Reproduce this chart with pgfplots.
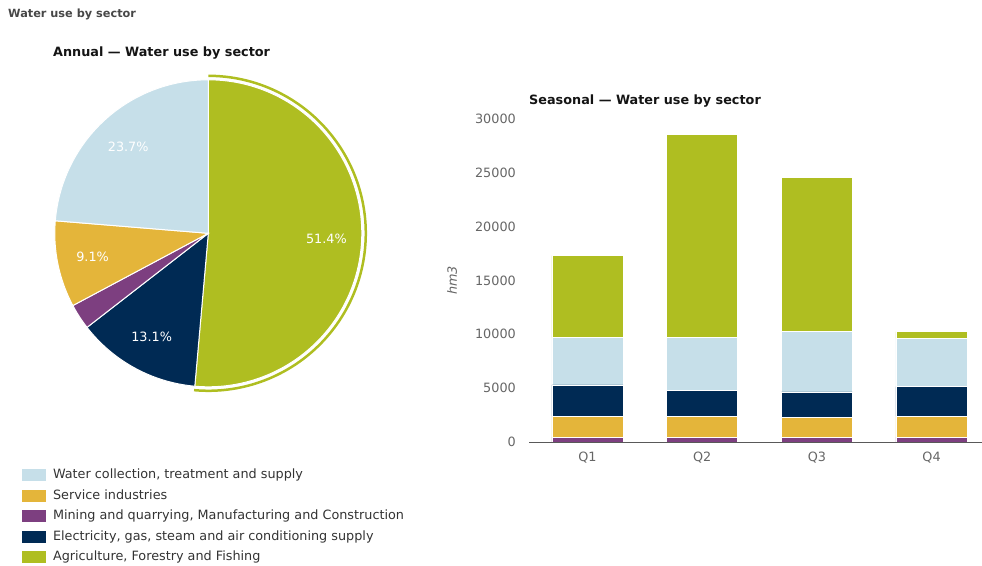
\documentclass[border=0pt]{standalone}
\usepackage{fontspec}
\setmainfont{DejaVu Sans}
\usepackage{pgfplots}
\usepackage{pgfplotstable}
\pgfplotsset{compat=1.18}
\definecolor{agri}{RGB}{175,190,33}
\definecolor{water}{RGB}{198,223,233}
\definecolor{serv}{RGB}{228,181,58}
\definecolor{mine}{RGB}{125,63,128}
\definecolor{elec}{RGB}{0,42,84}
\definecolor{tickgray}{RGB}{102,102,102}
\definecolor{txt}{RGB}{51,51,51}

\pgfplotstableread{
q mine serv elec water agri
0 450 1950 2900 4400 7600
1 450 1950 2350 4950 18850
2 450 1850 2350 5600 14350
3 450 1950 2750 4480 620
}\seasonal

\newcommand{\fs}{\fontsize{12.8}{15}\selectfont}

\begin{document}
\begin{tikzpicture}[x=1pt,y=1pt]
\useasboundingbox (0,0) rectangle (982,565);

\node[anchor=west, inner sep=0pt, font=\fontsize{11.3}{13}\selectfont\bfseries, text=black!72] at (8,551) {Water use by sector};
\node[anchor=west, inner sep=0pt, font=\fontsize{12.8}{15}\selectfont\bfseries, text=black!92] at (53,512) {Annual — Water use by sector};
\node[anchor=west, inner sep=0pt, font=\fontsize{12.8}{15}\selectfont\bfseries, text=black!92] at (529,464) {Seasonal — Water use by sector};

% ---------- pie ----------
\begin{axis}[at={(8.75pt,132.15pt)}, anchor=south west, scale only axis,
  width=399.1pt, height=399.1pt,
  xmin=-1.3, xmax=1.3, ymin=-1.3, ymax=1.3,
  hide axis, clip=false, reverse legend,
  legend image code/.code={\fill[#1,draw=none] (0pt,-6pt) rectangle (24pt,6pt);},
  legend cell align=left,
  legend style={at={(axis description cs:0.0332,-0.0906)}, anchor=north west,
    draw=none, fill=none, inner sep=0pt, outer sep=0pt,
    column sep=7pt, row sep=7.8pt, font=\fs, text=txt,
    nodes={inner sep=0pt, text height=9.7pt, text depth=3pt}},
  ]
\addplot[fill=agri, draw=white, line width=1pt, domain=-95.04:90, samples=150, variable=\t]
  ({cos(\t)},{sin(\t)}) -- (axis cs:0,0) -- cycle;
\addlegendentry{Agriculture, Forestry and Fishing}
\addplot[fill=elec, draw=white, line width=1pt, domain=-142.2:-95.04, samples=60, variable=\t]
  ({cos(\t)},{sin(\t)}) -- (axis cs:0,0) -- cycle;
\addlegendentry{Electricity, gas, steam and air conditioning supply}
\addplot[fill=mine, draw=white, line width=1pt, domain=-151.92:-142.2, samples=20, variable=\t]
  ({cos(\t)},{sin(\t)}) -- (axis cs:0,0) -- cycle;
\addlegendentry{Mining and quarrying, Manufacturing and Construction}
\addplot[fill=serv, draw=white, line width=1pt, domain=-184.68:-151.92, samples=40, variable=\t]
  ({cos(\t)},{sin(\t)}) -- (axis cs:0,0) -- cycle;
\addlegendentry{Service industries}
\addplot[fill=water, draw=white, line width=1pt, domain=-270:-184.68, samples=90, variable=\t]
  ({cos(\t)},{sin(\t)}) -- (axis cs:0,0) -- cycle;
\addlegendentry{Water collection, treatment and supply}
\addplot[draw=agri, line width=2.5pt, domain=-95.2:90, samples=150, variable=\t, forget plot]
  ({1.026*cos(\t)},{1.026*sin(\t)});

\node[text=white, font=\fs] at (axis cs:{0.77*cos(-2.52)},{0.77*sin(-2.52)}) {51.4\%};
\node[text=white, font=\fs] at (axis cs:{0.77*cos(132.66)},{0.77*sin(132.66)}) {23.7\%};
\node[text=white, font=\fs] at (axis cs:{0.77*cos(-168.3)},{0.77*sin(-168.3)}) {9.1\%};
\node[text=white, font=\fs] at (axis cs:{0.77*cos(-118.62)},{0.77*sin(-118.62)}) {13.1\%};
\end{axis}

% ---------- bars ----------
\begin{axis}[at={(529pt,123pt)}, anchor=south west, scale only axis,
  width=453pt, height=323pt,
  xmin=-0.51, xmax=3.44, ymin=0, ymax=30000,
  ybar stacked, bar width=0.62,
  axis x line*=bottom, axis y line*=left,
  y axis line style={draw=none},
  x axis line style={draw=black!65, line width=0.9pt, -},
  major tick length=0pt,
  xtick={0,1,2,3}, xticklabels={Q1,Q2,Q3,Q4},
  ytick={0,5000,...,30000}, scaled y ticks=false,
  /pgf/number format/1000 sep={}, /pgf/number format/assume math mode=true,
  tick label style={font=\fs, text=tickgray},
  yticklabel style={anchor=east, inner sep=0pt, xshift=-13pt},
  xticklabel style={anchor=north, inner sep=0pt, yshift=-10pt},
  ylabel={\itshape hm3},
  every axis y label/.style={at={(axis description cs:-0.17,0.5)}, rotate=90, anchor=center, font=\fs, text=tickgray},
  ]
\addplot[fill=mine, draw=white, line width=0.8pt] table[x=q,y=mine]{\seasonal};
\addplot[fill=serv, draw=white, line width=0.8pt] table[x=q,y=serv]{\seasonal};
\addplot[fill=elec, draw=white, line width=0.8pt] table[x=q,y=elec]{\seasonal};
\addplot[fill=water, draw=white, line width=0.8pt] table[x=q,y=water]{\seasonal};
\addplot[fill=agri, draw=white, line width=0.8pt] table[x=q,y=agri]{\seasonal};
\end{axis}
\end{tikzpicture}
\end{document}
